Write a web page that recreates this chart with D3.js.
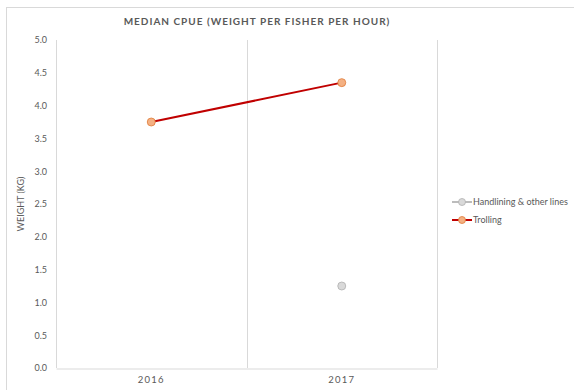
<!DOCTYPE html>
<html>
<head>
<meta charset="utf-8">
<script src="https://cdn.jsdelivr.net/npm/d3@7"></script>
<style>
  body { margin: 0; background: #fff; }
  text { font-family: Lato, "Open Sans", sans-serif; fill: #595959; }
</style>
</head>
<body>
<svg id="chart" width="574" height="390"></svg>
<script>
// chart values
var years = ["2016", "2017"];
var trolling = [3.75, 4.35];
var handlining = [null, 1.25];
var yTicks = [0, 0.5, 1, 1.5, 2, 2.5, 3, 3.5, 4, 4.5, 5];
var seriesNames = ["Handlining & other lines", "Trolling"];

var svg = d3.select("#chart");

// outer frame
svg.append("rect")
    .attr("x", 6.5).attr("y", 7.5)
    .attr("width", 580).attr("height", 400)
    .attr("fill", "none")
    .attr("stroke", "#d9d9d9");

// plot area edges (avoid "top", it is window.top)
var plotLeft = 56, plotRight = 437, plotTop = 40, plotBottom = 368;

var x = d3.scaleBand().domain(years).range([plotLeft, plotRight]);
var y = d3.scaleLinear().domain([0, 5]).range([plotBottom, plotTop]);

// vertical gridlines at category boundaries
var bounds = years.map(function(d) { return x(d); }).concat([plotRight]);
svg.append("g").selectAll("line")
    .data(bounds)
    .enter().append("line")
    .attr("x1", function(d) { return Math.round(d) + 0.5; })
    .attr("x2", function(d) { return Math.round(d) + 0.5; })
    .attr("y1", plotTop).attr("y2", plotBottom)
    .attr("stroke", "#d9d9d9");

// x axis
var gx = svg.append("g").attr("transform", "translate(0," + (plotBottom + 0.5) + ")")
    .call(d3.axisBottom(x).tickSize(0).tickPadding(8));
gx.select(".domain").attr("stroke", "#d9d9d9");
gx.selectAll("text")
    .attr("font-size", 9.5)
    .attr("letter-spacing", 1.2)
    .attr("fill", "#595959")
    .style("font-family", "Lato, sans-serif");

// y axis
var gy = svg.append("g").attr("transform", "translate(" + plotLeft + ",0)")
    .call(d3.axisLeft(y).tickValues(yTicks).tickSize(0).tickPadding(9)
        .tickFormat(d3.format(".1f")));
gy.select(".domain").remove();
gy.selectAll("text")
    .attr("font-size", 9)
    .attr("fill", "#595959")
    .style("font-family", "Lato, sans-serif");

// y axis title
svg.append("text")
    .attr("transform", "translate(24," + ((plotTop + plotBottom) / 2) + ") rotate(-90)")
    .attr("text-anchor", "middle")
    .attr("font-size", 9)
    .text("WEIGHT (KG)");

// title
svg.append("text")
    .attr("x", 257).attr("y", 25)
    .attr("text-anchor", "middle")
    .attr("font-size", 10)
    .attr("font-weight", "bold")
    .attr("letter-spacing", 1)
    .text("MEDIAN CPUE (WEIGHT PER FISHER PER HOUR)");

// trolling line
var pts = years.map(function(d, i) { return { year: d, value: trolling[i] }; });
var line = d3.line()
    .x(function(d) { return x(d.year) + x.bandwidth() / 2; })
    .y(function(d) { return y(d.value); });

svg.append("path")
    .datum(pts)
    .attr("d", line)
    .attr("fill", "none")
    .attr("stroke", "#c00000")
    .attr("stroke-width", 2);

svg.append("g").selectAll("circle")
    .data(pts)
    .enter().append("circle")
    .attr("cx", function(d) { return x(d.year) + x.bandwidth() / 2; })
    .attr("cy", function(d) { return y(d.value); })
    .attr("r", 4)
    .attr("fill", "#f4b183")
    .attr("stroke", "#e07b39")
    .attr("stroke-width", 0.8);

// handlining points
var hpts = years.map(function(d, i) { return { year: d, value: handlining[i] }; })
    .filter(function(d) { return d.value != null; });
svg.append("g").selectAll("circle")
    .data(hpts)
    .enter().append("circle")
    .attr("cx", function(d) { return x(d.year) + x.bandwidth() / 2; })
    .attr("cy", function(d) { return y(d.value); })
    .attr("r", 4)
    .attr("fill", "#d9d9d9")
    .attr("stroke", "#b0b0b0")
    .attr("stroke-width", 0.8);

// legend
var legColors = [
    { line: "#a6a6a6", fill: "#d9d9d9", stroke: "#b0b0b0" },
    { line: "#c00000", fill: "#f4b183", stroke: "#e07b39" }
];
var leg = svg.append("g").selectAll("g")
    .data(seriesNames)
    .enter().append("g")
    .attr("transform", function(d, i) { return "translate(452," + (202 + i * 18) + ")"; });
leg.append("line")
    .attr("x1", 0).attr("x2", 20)
    .attr("stroke", function(d, i) { return legColors[i].line; })
    .attr("stroke-width", function(d, i) { return i ? 2 : 1.5; });
leg.append("circle")
    .attr("cx", 10).attr("r", 3.5)
    .attr("fill", function(d, i) { return legColors[i].fill; })
    .attr("stroke", function(d, i) { return legColors[i].stroke; })
    .attr("stroke-width", 0.8);
leg.append("text")
    .attr("x", 21).attr("dy", "0.35em")
    .attr("font-size", 9)
    .text(function(d) { return d; });
</script>
</body>
</html>
